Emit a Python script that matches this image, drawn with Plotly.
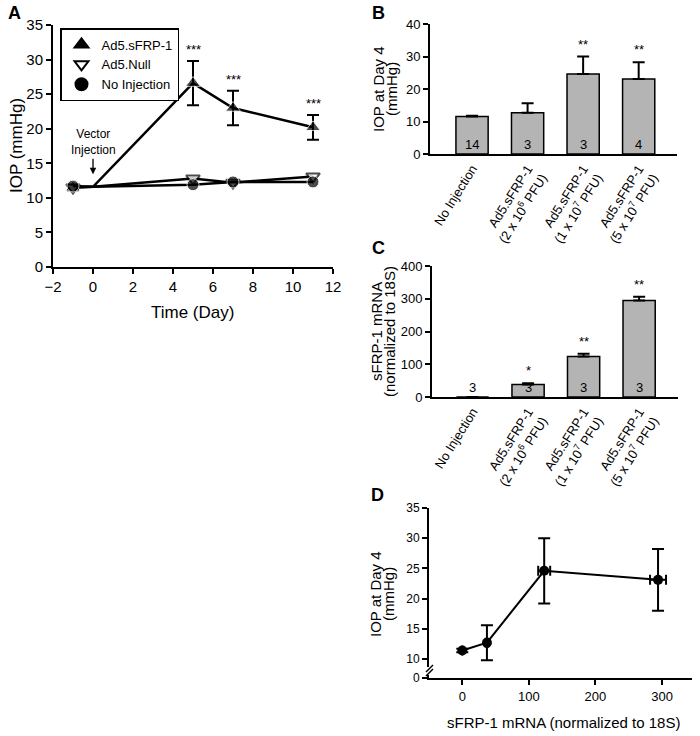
import plotly.graph_objects as go

# ---- data ----
# panel A: IOP time course
days = [-1, 0, 5, 7, 11]
sfrp_iop = [11.5, 11.6, 26.6, 23.0, 20.2]
sfrp_err = [0.4, 0, 3.2, 2.5, 1.8]
null_iop = [11.5, 11.6, 12.8, 12.2, 13.1]
noinj_iop = [11.7, 11.6, 11.9, 12.3, 12.3]
star_days = [5, 7, 11]
star_iop = [29.8, 25.5, 22.0]

# panel B: IOP at day 4 by dose
groups = ["No Injection",
          "Ad5.sFRP-1<br>(2 x 10<sup>6</sup> PFU)",
          "Ad5.sFRP-1<br>(1 x 10<sup>7</sup> PFU)",
          "Ad5.sFRP-1<br>(5 x 10<sup>7</sup> PFU)"]
b_iop = [11.5, 12.7, 24.6, 23.1]
b_err = [0.3, 2.9, 5.4, 5.1]
b_n = ["14", "3", "3", "4"]
b_stars = ["", "", "**", "**"]

# panel C: sFRP-1 mRNA by dose
c_mrna = [0, 38, 124, 295]
c_err = [0, 4, 8, 11]
c_n = ["3", "3", "3", "3"]
c_stars = ["", "*", "**", "**"]

# panel D: IOP vs mRNA
d_mrna = [0, 37, 123, 294]
d_mrna_err = [0, 2, 9, 12]
d_iop = [11.4, 12.7, 24.6, 23.1]
d_iop_err = [0.3, 2.9, 5.4, 5.1]

FONT = "Liberation Sans, Arial, sans-serif"
W, H = 700, 736
BAR_GRAY = "#b4b4b4"


def px_x(p):
    return p / W


def px_y(p):
    return 1 - p / H


fig = go.Figure()

# ---- A ----
fig.add_trace(go.Scatter(
    x=days, y=sfrp_iop, mode="lines+markers", xaxis="x", yaxis="y",
    line=dict(color="black", width=2.5),
    marker=dict(symbol="triangle-up", size=[13, 0, 13, 13, 13], color="black"),
    error_y=dict(type="data", array=sfrp_err, color="black", thickness=2, width=6),
    showlegend=False))
fig.add_trace(go.Scatter(
    x=days, y=null_iop, mode="lines+markers", xaxis="x", yaxis="y",
    line=dict(color="black", width=2.5),
    marker=dict(symbol="triangle-down", size=[12, 0, 12, 12, 12], color="white",
                line=dict(color="black", width=2)),
    showlegend=False))
fig.add_trace(go.Scatter(
    x=days, y=noinj_iop, mode="lines+markers", xaxis="x", yaxis="y",
    line=dict(color="black", width=2.5),
    marker=dict(symbol="circle", size=[12, 0, 12, 12, 12], color="black"),
    showlegend=False))

# legend-only entries (markers only, like the original key)
for name, sym, fill in [("Ad5.sFRP-1", "triangle-up", "black"),
                        ("Ad5.Null", "triangle-down", "white"),
                        ("No Injection", "circle", "black")]:
    fig.add_trace(go.Scatter(
        x=[None], y=[None], mode="markers", name=name, xaxis="x", yaxis="y",
        marker=dict(symbol=sym, size=12, color=fill, line=dict(color="black", width=2))))

# ---- B ----
fig.add_trace(go.Bar(
    x=[0, 1, 2, 3], y=b_iop, xaxis="x2", yaxis="y2", width=0.58,
    marker=dict(color=BAR_GRAY, line=dict(color="black", width=1.5)),
    error_y=dict(type="data", symmetric=False, array=b_err, arrayminus=[0] * 4,
                 color="black", thickness=2, width=6),
    showlegend=False))

# ---- C ----
fig.add_trace(go.Bar(
    x=[0, 1, 2, 3], y=c_mrna, xaxis="x3", yaxis="y3", width=0.58,
    marker=dict(color=BAR_GRAY, line=dict(color="black", width=1.5)),
    error_y=dict(type="data", symmetric=False, array=c_err, arrayminus=[0] * 4,
                 color="black", thickness=2, width=6),
    showlegend=False))

# ---- D ----
fig.add_trace(go.Scatter(
    x=d_mrna, y=d_iop, mode="lines+markers", xaxis="x4", yaxis="y4",
    line=dict(color="black", width=2),
    marker=dict(symbol="circle", size=10, color="black"),
    error_y=dict(type="data", array=d_iop_err, color="black", thickness=2, width=6),
    error_x=dict(type="data", array=d_mrna_err, color="black", thickness=2, width=5),
    showlegend=False))

axis_common = dict(showline=True, linecolor="black", linewidth=2, mirror=False,
                   showgrid=False, zeroline=False, ticks="outside", ticklen=5,
                   tickwidth=1.5, tickcolor="black", automargin=False,
                   tickfont=dict(family=FONT, size=12, color="black"))

fig.update_layout(
    width=W, height=H,
    margin=dict(l=0, r=0, t=0, b=0, autoexpand=False),
    paper_bgcolor="white", plot_bgcolor="white",
    font=dict(family=FONT, color="black"),
    legend=dict(x=px_x(60), y=px_y(28), xanchor="left", yanchor="top",
                bordercolor="black", borderwidth=1.5, bgcolor="white",
                font=dict(family=FONT, size=13, color="black"),
                tracegroupgap=0, itemsizing="constant"),
    xaxis=dict(axis_common, domain=[px_x(53), px_x(333)], range=[-2, 12], dtick=2,
               tickfont=dict(family=FONT, size=15, color="black"), anchor="y"),
    yaxis=dict(axis_common, domain=[px_y(267), px_y(25)], range=[0, 35], dtick=5,
               tickfont=dict(family=FONT, size=15, color="black"), anchor="x"),
    xaxis2=dict(axis_common, domain=[px_x(430), px_x(677)], range=[-0.757, 3.69],
                tickvals=[0, 1, 2, 3], ticktext=groups, tickangle=-58, ticks="",
                tickfont=dict(family=FONT, size=13, color="black"), anchor="y2"),
    yaxis2=dict(axis_common, domain=[px_y(154), px_y(24)], range=[0, 40], dtick=10,
                tickfont=dict(family=FONT, size=13, color="black"), anchor="x2"),
    xaxis3=dict(axis_common, domain=[px_x(432), px_x(678)], range=[-0.73, 3.70],
                tickvals=[0, 1, 2, 3], ticktext=groups, tickangle=-58, ticks="",
                tickfont=dict(family=FONT, size=13, color="black"), anchor="y3"),
    yaxis3=dict(axis_common, domain=[px_y(397), px_y(266)], range=[0, 400], dtick=100,
                tickfont=dict(family=FONT, size=13, color="black"), anchor="x3"),
    xaxis4=dict(axis_common, domain=[px_x(429), px_x(692)], range=[-50, 345],
                tickvals=[0, 100, 200, 300],
                tickfont=dict(family=FONT, size=13, color="black"), anchor="y4"),
    yaxis4=dict(axis_common, domain=[px_y(678), px_y(508)], range=[6.85, 35],
                tickvals=[6.85, 10, 15, 20, 25, 30, 35],
                ticktext=["0", "10", "15", "20", "25", "30", "35"],
                tickfont=dict(family=FONT, size=12, color="black"), anchor="x4"),
)

ann = []


def paper_text(x, y, text, size, **kw):
    d = dict(x=px_x(x), y=px_y(y), xref="paper", yref="paper", text=text,
             xanchor="center", yanchor="middle", showarrow=False,
             font=dict(family=FONT, size=size, color="black"))
    d.update(kw)
    ann.append(d)


# panel letters
paper_text(14, 13, "<b>A</b>", 18)
paper_text(378, 13, "<b>B</b>", 18)
paper_text(378, 248, "<b>C</b>", 18)
paper_text(377, 495, "<b>D</b>", 18)

# axis titles (two-line ones set line by line to keep the tight leading)
paper_text(16, 146, "IOP (mmHg)", 17, textangle=-90)
paper_text(193, 312, "Time (Day)", 17)
paper_text(378, 89, "IOP at Day 4", 15, textangle=-90)
paper_text(391, 89, "(mmHg)", 15, textangle=-90)
paper_text(376, 332, "sFRP-1 mRNA", 15, textangle=-90)
paper_text(389, 332, "(normalized to 18S)", 15, textangle=-90)
paper_text(375, 594, "IOP at Day 4", 15, textangle=-90)
paper_text(388, 594, "(mmHg)", 15, textangle=-90)
paper_text(563, 722, "sFRP-1 mRNA (normalized to 18S)", 15)

# stars in A
for d, v in zip(star_days, star_iop):
    ann.append(dict(x=d, y=v, xref="x", yref="y", text="***", showarrow=False,
                    yanchor="bottom", yshift=2,
                    font=dict(family=FONT, size=13, color="black")))

# vector injection arrow
ann.append(dict(x=0, y=13.4, xref="x", yref="y", ax=0, ay=-32, text="Vector<br>Injection",
                showarrow=True, arrowhead=2, arrowsize=1, arrowwidth=1.3,
                arrowcolor="black", font=dict(family=FONT, size=12, color="black")))

# n labels and stars for B and C
for xa, ya, vals, errs, ns, stars in [("x2", "y2", b_iop, b_err, b_n, b_stars),
                                      ("x3", "y3", c_mrna, c_err, c_n, c_stars)]:
    for i in range(4):
        ann.append(dict(x=i, y=0, xref=xa, yref=ya, text=ns[i], showarrow=False,
                        yanchor="bottom", yshift=0,
                        font=dict(family=FONT, size=13, color="black")))
        if stars[i]:
            ann.append(dict(x=i, y=vals[i] + errs[i], xref=xa, yref=ya, text=stars[i],
                            showarrow=False, yanchor="bottom", yshift=3,
                            font=dict(family=FONT, size=13, color="black")))

fig.update_layout(annotations=ann)

# axis break on D's y axis
fig.add_shape(type="rect", xref="paper", yref="paper",
              x0=px_x(425), x1=px_x(433), y0=px_y(675), y1=px_y(667),
              fillcolor="white", line=dict(width=0), layer="above")
for off in (0, 4):
    fig.add_shape(type="line", xref="paper", yref="paper",
                  x0=px_x(426), y0=px_y(676 - off), x1=px_x(433), y1=px_y(669 - off),
                  line=dict(color="black", width=1.5), layer="above")

# drop the browser's default body margin so the 700x736 figure fills the window
fig.write_html("out.html", config={"displayModeBar": False},
               post_script="document.body.style.margin='0';")
